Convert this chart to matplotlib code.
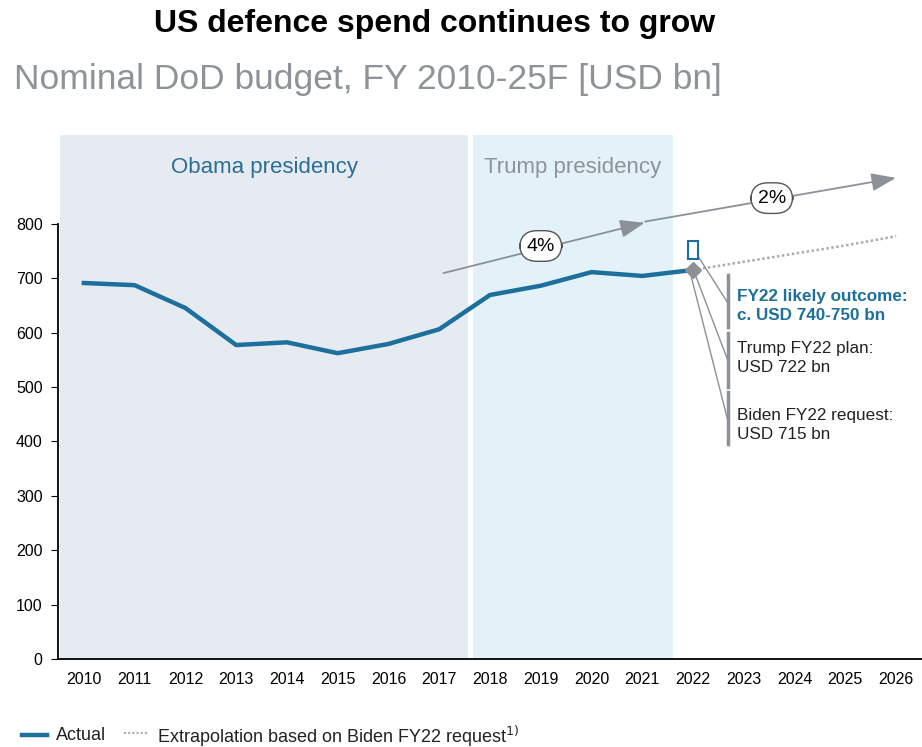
import matplotlib.pyplot as plt
from matplotlib.patches import Rectangle

plt.rcParams['font.family'] = ['Liberation Sans', 'DejaVu Sans']

years = [2010, 2011, 2012, 2013, 2014, 2015, 2016, 2017, 2018, 2019, 2020, 2021, 2022]
budget = [691, 687, 645, 577, 582, 562, 579, 606, 669, 686, 711, 704, 715]

extra_years = [2022, 2023, 2024, 2025, 2026]
extra_budget = [715, 730, 745, 760, 777]

tick_years = list(range(2010, 2027))
y_ticks = [0, 100, 200, 300, 400, 500, 600, 700, 800]

blue = '#1d6f9c'
grey = '#8c9097'

fig = plt.figure(figsize=(9.22, 7.47), dpi=100)
ax = fig.add_axes([58 / 922, 88 / 747, 864 / 922, 524 / 747])
ax.set_xlim(2009.49, 2026.51)
ax.set_ylim(0, 963)

# presidency bands
ax.axvspan(2009.53, 2017.57, color='#e6eaf1', zorder=0, lw=0)
ax.axvspan(2017.67, 2021.6, color='#e3f1f8', zorder=0, lw=0)
ax.text(2013.55, 903, 'Obama presidency', color='#2a6e98', fontsize=16, ha='center', va='center')
ax.text(2019.63, 903, 'Trump presidency', color='#8e9399', fontsize=16, ha='center', va='center')

ax.plot(years, budget, color=blue, lw=3.2, solid_joinstyle='round', zorder=3)
ax.plot(extra_years, extra_budget, color='#a8acb2', lw=1.8, ls=(0, (1, 1)), zorder=2)
ax.plot([2022], [715], marker='D', color=grey, ms=8, zorder=4)

# growth arrows
arrow = dict(arrowstyle='-|>,head_length=1.5,head_width=0.55', color=grey, lw=1.3)
ax.annotate('', xy=(2021.1, 803), xytext=(2017.03, 708), arrowprops=arrow)
ax.annotate('', xy=(2026.05, 885), xytext=(2021.0, 803), arrowprops=arrow)
for x, y, s in [(2019.0, 759, '4%'), (2023.55, 847, '2%')]:
    ax.text(x, y, s, fontsize=14, ha='center', va='center', zorder=5,
            bbox=dict(boxstyle='round,pad=0.35,rounding_size=0.9', fc='white', ec='#555555', lw=1))

# FY22 annotations
ax.add_patch(Rectangle((2021.9, 735), 0.19, 34, fill=False, ec=blue, lw=1.5, zorder=4))
bar_x = 2022.68
ax.plot([bar_x, bar_x], [610, 706], color=grey, lw=2.5)
ax.plot([bar_x, bar_x], [500, 600], color=grey, lw=2.5)
ax.plot([bar_x, bar_x], [395, 490], color=grey, lw=2.5)
ax.plot([2022.1, bar_x], [740, 655], color=grey, lw=1)
ax.plot([2022.02, bar_x], [712, 550], color=grey, lw=1)
ax.plot([2021.95, bar_x], [708, 440], color=grey, lw=1)
ax.text(2022.87, 649, 'FY22 likely outcome:\nc. USD 740-750 bn', color=blue, fontsize=12.3,
        fontweight='bold', ha='left', va='center', linespacing=1.3)
ax.text(2022.87, 553, 'Trump FY22 plan:\nUSD 722 bn', color='#222222', fontsize=12.3,
        ha='left', va='center', linespacing=1.3)
ax.text(2022.87, 430, 'Biden FY22 request:\nUSD 715 bn', color='#222222', fontsize=12.3,
        ha='left', va='center', linespacing=1.3)

ax.set_xticks(tick_years)
ax.set_xticklabels([str(t) for t in tick_years], fontsize=11.5)
ax.set_yticks(y_ticks)
ax.set_yticklabels([str(t) for t in y_ticks], fontsize=11.5)
ax.tick_params(axis='x', length=0, pad=9)
ax.tick_params(axis='y', length=5, pad=6)
for s in ['top', 'right']:
    ax.spines[s].set_visible(False)
ax.spines['left'].set_bounds(0, 800)
ax.spines['left'].set_linewidth(1.3)
ax.spines['bottom'].set_linewidth(1.3)

fig.text(435 / 922, 1 - 24 / 747, 'US defence spend continues to grow', fontsize=23,
         fontweight='bold', ha='center', va='center')
fig.text(14 / 922, 1 - 80 / 747, 'Nominal DoD budget, FY 2010-25F [USD bn]', fontsize=25.5,
         color='#8e9399', ha='left', va='center')

# legend
fig.lines.append(plt.Line2D([22 / 922, 47 / 922], [1 - 735 / 747] * 2, color=blue, lw=3.2,
                            transform=fig.transFigure))
fig.text(56 / 922, 1 - 736 / 747, 'Actual', fontsize=13, color='#222222', va='center')
fig.lines.append(plt.Line2D([124 / 922, 149 / 922], [1 - 733 / 747] * 2, color='#a8acb2', lw=1.5,
                            ls=(0, (1, 1)), transform=fig.transFigure))
fig.text(157 / 922, 1 - 736 / 747, 'Extrapolation based on Biden FY22 request$^{1)}$', fontsize=13,
         color='#222222', va='center')

fig.savefig('out.png', dpi=100)
